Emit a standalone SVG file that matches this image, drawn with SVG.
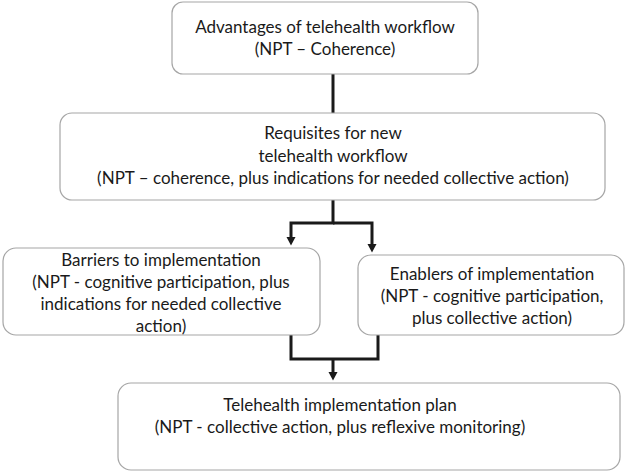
<svg xmlns="http://www.w3.org/2000/svg" width="626" height="472" viewBox="0 0 626 472">
<style>
.box{fill:#fff;stroke:#a6a6a6;stroke-width:1.2}
.t{font-family:Lato,"Open Sans","Liberation Sans",sans-serif;font-size:17px;fill:#1a1a1a;text-anchor:middle}
.c{fill:none;stroke:#1a1a1a;stroke-width:3}
</style>
<defs>
<marker id="ah" markerWidth="4" markerHeight="4" refX="1" refY="2" orient="auto" markerUnits="strokeWidth">
<path d="M0,0.5 L2.8,2 L0,3.5 z" fill="#1a1a1a"/>
</marker>
</defs>
<rect width="626" height="472" fill="#fff"/>
<g id="connectors">
<line class="c" x1="333" y1="74" x2="333" y2="113"/>
<polyline class="c" points="333,200 333,223 291,223 291,240" marker-end="url(#ah)"/>
<polyline class="c" points="333,223 372,223 372,247" marker-end="url(#ah)"/>
<polyline class="c" points="291,335 291,359 378,359 378,335"/>
<line class="c" x1="333" y1="359" x2="333" y2="375" marker-end="url(#ah)"/>
</g>
<g id="n1">
<rect class="box" x="172" y="2" width="306" height="72" rx="11"/>
<text class="t" x="325" y="33">Advantages of telehealth workflow</text>
<text class="t" x="325" y="55">(NPT – Coherence)</text>
</g>
<g id="n2">
<rect class="box" x="60" y="113" width="545" height="87" rx="12"/>
<text class="t" x="333" y="139">Requisites for new</text>
<text class="t" x="333" y="162">telehealth workflow</text>
<text class="t" x="333" y="184">(NPT – coherence, plus indications for needed collective action)</text>
</g>
<g id="n3">
<rect class="box" x="3" y="248" width="317" height="87" rx="13"/>
<text class="t" x="161" y="266">Barriers to implementation</text>
<text class="t" x="161" y="288">(NPT - cognitive participation, plus</text>
<text class="t" x="161" y="310">indications for needed collective</text>
<text class="t" x="161" y="332">action)</text>
</g>
<g id="n4">
<rect class="box" x="358" y="255" width="266" height="80" rx="13"/>
<text class="t" x="492" y="280">Enablers of implementation</text>
<text class="t" x="492" y="302">(NPT - cognitive participation,</text>
<text class="t" x="492" y="324">plus collective action)</text>
</g>
<g id="n5">
<rect class="box" x="118" y="383" width="502" height="87" rx="13"/>
<text class="t" x="340" y="411">Telehealth implementation plan</text>
<text class="t" x="340" y="433">(NPT - collective action, plus reflexive monitoring)</text>
</g>
</svg>
